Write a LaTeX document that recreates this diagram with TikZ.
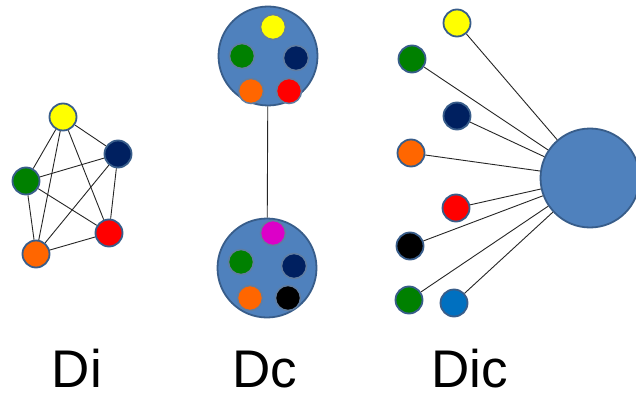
\documentclass[tikz,border=0pt]{standalone}
\usepackage{fontspec}
\setmainfont{Liberation Sans}
\definecolor{hubblue}{RGB}{79,129,189}
\definecolor{rimblue}{RGB}{56,93,138}
\definecolor{cgreen}{RGB}{0,128,0}
\definecolor{cnavy}{RGB}{0,32,96}
\definecolor{corange}{RGB}{255,102,0}
\definecolor{cred}{RGB}{255,0,0}
\definecolor{cyellow}{RGB}{255,255,0}
\definecolor{cmagenta}{RGB}{220,0,200}
\definecolor{cblue}{RGB}{0,112,192}
\tikzset{
  dot/.style={circle, draw=rimblue, line width=1.8pt, inner sep=0pt, minimum size=27pt, fill=#1},
  innerdot/.style={circle, draw=rimblue!80, line width=1.5pt, inner sep=0pt, minimum size=25pt, fill=#1},
  hub/.style={circle, draw=rimblue, line width=1.8pt, fill=hubblue, inner sep=0pt, minimum size=#1},
  link/.style={draw=black!85, line width=0.9pt},
  caption/.style={anchor=base, font=\fontsize{53}{60}\selectfont}
}
\begin{document}
\begin{tikzpicture}[x=1pt,y=-1pt]
\useasboundingbox[fill=white] (0,0) rectangle (636,398);

% Di: complete graph on five vertices
\node[dot=cyellow] (iy) at (63,117) {};
\node[dot=cnavy]   (in) at (118,154) {};
\node[dot=cgreen]  (ig) at (26,181) {};
\node[dot=cred]    (ir) at (109,233) {};
\node[dot=corange] (io) at (36,254) {};
\foreach \a/\b in {iy/in, iy/ig, iy/ir, iy/io, in/ig, in/ir, in/io, ig/ir, ig/io, ir/io}
  \draw[link] (\a) -- (\b);

% Dc: two clusters joined by one link
\node[hub=99pt] (ctop) at (268,56) {};
\node[hub=99pt] (cbot) at (267,268) {};
\draw[link] (ctop) -- (cbot);
\node[innerdot=cyellow] (cty) at (273,27) {};
\node[innerdot=cgreen]  (ctg) at (242,56) {};
\node[innerdot=cnavy]   (ctn) at (296,58) {};
\node[innerdot=corange] (cto) at (251,91) {};
\node[innerdot=cred]    (ctr) at (289,91) {};
\node[innerdot=cmagenta](cbm) at (273,233) {};
\node[innerdot=cgreen]  (cbg) at (241,262) {};
\node[innerdot=cnavy]   (cbn) at (294,266) {};
\node[innerdot=corange] (cbo) at (250,298) {};
\node[innerdot=black]   (cbk) at (288,298) {};

% Dic: star around a central hub
\node[hub=99pt] (hub) at (590,178) {};
\node[dot=cyellow] (sy)  at (457,23) {};
\node[dot=cgreen]  (sg1) at (412,59) {};
\node[dot=cnavy]   (sn)  at (457,116) {};
\node[dot=corange] (so)  at (411,153) {};
\node[dot=cred]    (sr)  at (456,208) {};
\node[dot=black]   (sk)  at (410,246) {};
\node[dot=cgreen]  (sg2) at (409,300) {};
\node[dot=cblue]   (sb)  at (454,303) {};
\foreach \s in {sy, sg1, sn, so, sr, sk, sg2, sb}
  \draw[link] (\s) -- (hub);

% captions
\node[caption] (ldi)  at (77,387)  {Di};
\node[caption] (ldc)  at (265,387) {Dc};
\node[caption] (ldic) at (470,387) {Dic};
\end{tikzpicture}
\end{document}
